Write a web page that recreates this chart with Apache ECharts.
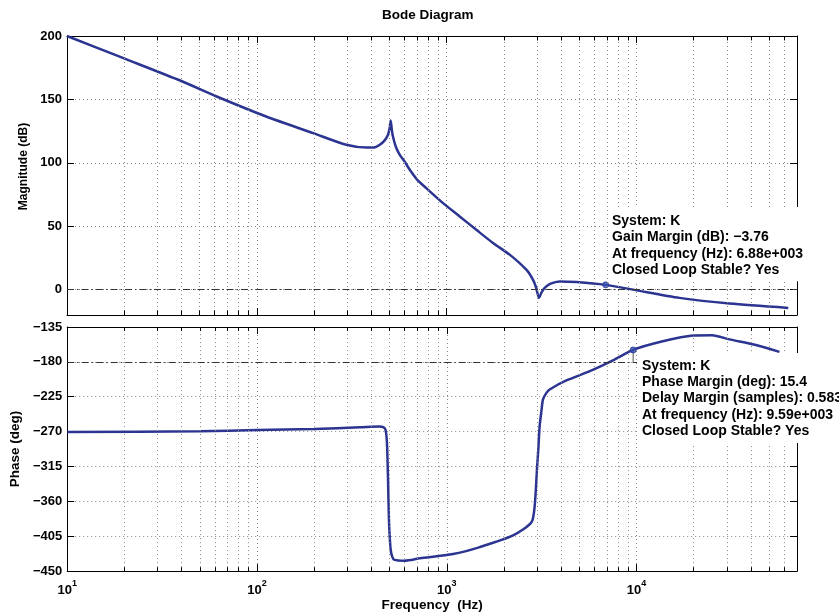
<!DOCTYPE html>
<html>
<head>
<meta charset="utf-8">
<title>Bode Diagram</title>
<script src="https://cdn.jsdelivr.net/npm/echarts@6/dist/echarts.min.js"></script>
<style>
  html, body { margin: 0; padding: 0; background: #fff; }
  #chart { width: 839px; height: 613px; }
</style>
</head>
<body>
<div id="chart"></div>
<script>
// magnitude curve (Hz, dB)
var magFreq = [10, 20, 40, 61, 112, 198, 296, 378, 420, 444,
  470, 490, 500, 507, 514, 521, 540, 566, 600, 639,
  700, 781, 957, 1171, 1432, 1753, 2146, 2626, 2845, 2960,
  3062, 3150, 3281, 3500, 3935, 4816, 6880, 9590, 16830, 30850, 63000];
var magDb = [200, 182.3, 164.5, 152.5, 136.5, 123.4, 114.2, 112, 112.3, 114.2,
  117.5, 122, 127, 133.3, 126, 120.7, 112.5, 106.3, 101, 94.5,
  86.6, 80, 68.2, 57.7, 47.2, 36.8, 27.6, 15.7, 7.9, 1.5,
  -6.5, -2.6, 1.3, 4.5, 6.5, 6, 3.76, 0, -6.5, -11, -14.4];

// phase curve (Hz, deg)
var phaseFreq = [10, 50, 100, 200, 350, 440, 465, 476, 484, 490,
  496, 505, 515, 530, 600, 721, 1079, 1493, 2234, 2793,
  2904, 2987, 3040, 3084, 3150, 3213, 3350, 3484, 4265, 5666,
  7507, 9590, 13740, 19770, 25000, 30830, 42000, 56570];
var phaseDeg = [-270.5, -269.5, -268, -266.5, -264.5, -263.5, -264.5, -268, -285, -330,
  -385, -420, -431, -435.5, -436.5, -433.5, -428, -419, -404, -387,
  -366, -318, -290, -263, -244, -228.4, -220, -215.6, -204, -192,
  -178, -164.6, -153.5, -146, -145.5, -151, -158, -167.1];

// axis ticks
var magTicks = [0, 50, 100, 150, 200];
var minorFreqs = [20, 30, 40, 50, 60, 70, 80, 90,
  200, 300, 400, 500, 600, 700, 800, 900,
  2000, 3000, 4000, 5000, 6000, 7000, 8000, 9000,
  20000, 30000, 40000, 50000, 60000];

// margins
var gmPoint = [6880, 3.76];
var pmPoint = [9590, -164.6];
var gmText = ["System: K", "Gain Margin (dB): \u22123.76", "At frequency (Hz): 6.88e+003", "Closed Loop Stable? Yes"];
var pmText = ["System: K", "Phase Margin (deg): 15.4", "Delay Margin (samples): 0.583", "At frequency (Hz): 9.59e+003", "Closed Loop Stable? Yes"];

var FONT = '"Liberation Sans", Arial, Helvetica, sans-serif';
var curveColor = "#2b3591";

function zip(xs, ys) {
  return xs.map(function (x, i) { return [x, ys[i]]; });
}

var gridLineStyle = { color: "#8a8a8a", type: [1, 3], width: 1 };
var dashDot = { color: "#333", type: [7, 3, 1.5, 3], width: 1 };
var tickStyle = { color: "#000", type: "solid", width: 1 };

// dotted minor grid lines plus short minor ticks on the bottom and top edges
function minorLines(yMin, yMax, tickLen) {
  var out = minorFreqs.map(function (f) { return { xAxis: f }; });
  minorFreqs.forEach(function (f) {
    out.push([{ coord: [f, yMin], lineStyle: tickStyle }, { coord: [f, yMin + tickLen] }]);
    out.push([{ coord: [f, yMax], lineStyle: tickStyle }, { coord: [f, yMax - tickLen] }]);
  });
  return out;
}

var myChart = echarts.init(document.getElementById("chart"));

function freqAxis(gridIndex, pos, showLabel) {
  var ax = {
    type: "log",
    logBase: 10,
    gridIndex: gridIndex,
    position: pos,
    min: 10,
    max: 70000,
    axisLine: { onZero: false, lineStyle: { color: "#000", width: 1 } },
    axisTick: { inside: true, length: 7, lineStyle: { color: "#000" } },
    splitLine: { show: pos === "bottom", lineStyle: gridLineStyle },
    axisLabel: { show: false }
  };
  if (showLabel) {
    ax.axisLabel = {
      show: true,
      margin: 8,
      color: "#000",
      formatter: function (v) {
        var e = Math.round(Math.log10(v));
        if (Math.abs(Math.pow(10, e) - v) > 1e-6 * v) return "";
        return "{b|10}{s|" + e + "}";
      },
      rich: {
        b: { fontFamily: FONT, fontWeight: "bold", fontSize: 13, lineHeight: 18, verticalAlign: "bottom" },
        s: { fontFamily: FONT, fontWeight: "bold", fontSize: 9, lineHeight: 9, verticalAlign: "top" }
      }
    };
    ax.name = "Frequency  (Hz)";
    ax.nameLocation = "middle";
    ax.nameGap = 26;
    ax.nameTextStyle = { fontFamily: FONT, fontWeight: "bold", fontSize: 13.5, color: "#000" };
  }
  return ax;
}

var tickLabel = { color: "#000", fontFamily: FONT, fontWeight: "bold", fontSize: 13, margin: 5 };

var option = {
  backgroundColor: "#fff",
  animation: false,
  grid: [
    { left: 67, right: 42, top: 36, height: 279 },
    { left: 67, right: 42, top: 327, height: 245 }
  ],
  graphic: [
    {
      type: "text", left: 382, top: 8, z: 100,
      style: { text: "Bode Diagram", font: "bold 13.5px " + FONT, fill: "#000" }
    },
    {
      type: "text", left: 608, top: 207, z: 100,
      style: {
        text: gmText.join("\n"), font: "bold 14px " + FONT, fill: "#000",
        lineHeight: 16.3, backgroundColor: "#fff", padding: [6, 4, 3, 4]
      }
    },
    {
      type: "text", left: 637, top: 353, z: 100,
      style: {
        text: pmText.join("\n"), font: "bold 14px " + FONT, fill: "#000",
        lineHeight: 16.2, backgroundColor: "#fff", padding: [5, 6, 4, 5]
      }
    }
  ],
  xAxis: [
    freqAxis(0, "bottom", false),
    freqAxis(0, "top", false),
    freqAxis(1, "bottom", true),
    freqAxis(1, "top", false)
  ],
  yAxis: [
    {
      type: "value", gridIndex: 0, position: "left", min: -20, max: 200,
      name: "Magnitude (dB)", nameLocation: "middle", nameGap: 33,
      nameTextStyle: { fontFamily: FONT, fontWeight: "bold", fontSize: 12, color: "#000", padding: [0, 0, 0, 18] },
      axisLine: { show: true, lineStyle: { color: "#000" } },
      axisTick: { show: true, inside: true, length: 7, customValues: magTicks, lineStyle: { color: "#000" } },
      axisLabel: Object.assign({ customValues: magTicks }, tickLabel),
      splitLine: { show: true, lineStyle: gridLineStyle }
    },
    {
      type: "value", gridIndex: 0, position: "right", min: -20, max: 200,
      axisLine: { show: true, lineStyle: { color: "#000" } },
      axisTick: { show: true, inside: true, length: 7, customValues: magTicks, lineStyle: { color: "#000" } },
      axisLabel: { show: false },
      splitLine: { show: false }
    },
    {
      type: "value", gridIndex: 1, position: "left", min: -450, max: -135, interval: 45,
      name: "Phase (deg)", nameLocation: "middle", nameGap: 40,
      nameTextStyle: { fontFamily: FONT, fontWeight: "bold", fontSize: 13.5, color: "#000" },
      axisLine: { show: true, lineStyle: { color: "#000" } },
      axisTick: { show: true, inside: true, length: 7, lineStyle: { color: "#000" } },
      axisLabel: Object.assign({
        formatter: function (v) { return String(v).replace("-", "\u2212"); }
      }, tickLabel),
      splitLine: { show: true, lineStyle: gridLineStyle }
    },
    {
      type: "value", gridIndex: 1, position: "right", min: -450, max: -135, interval: 45,
      axisLine: { show: true, lineStyle: { color: "#000" } },
      axisTick: { show: true, inside: true, length: 7, lineStyle: { color: "#000" } },
      axisLabel: { show: false },
      splitLine: { show: false }
    }
  ],
  series: [
    // minor grid + 0 dB line
    {
      type: "line", xAxisIndex: 0, yAxisIndex: 0, data: [], z: 1, silent: true,
      markLine: {
        silent: true, symbol: "none", label: { show: false },
        lineStyle: gridLineStyle, animation: false,
        data: minorLines(-20, 200, 3.5).concat([{ yAxis: 0, lineStyle: dashDot }])
      }
    },
    {
      type: "line", xAxisIndex: 2, yAxisIndex: 2, data: [], z: 1, silent: true,
      markLine: {
        silent: true, symbol: "none", label: { show: false },
        lineStyle: gridLineStyle, animation: false,
        data: minorLines(-450, -135, 5).concat([{ yAxis: -180, lineStyle: dashDot }])
      }
    },
    {
      name: "Magnitude", type: "line", xAxisIndex: 0, yAxisIndex: 0, z: 3,
      data: zip(magFreq, magDb), showSymbol: false, smooth: 0.25,
      lineStyle: { color: curveColor, width: 2.5 }
    },
    {
      name: "Phase", type: "line", xAxisIndex: 2, yAxisIndex: 2, z: 3,
      data: zip(phaseFreq, phaseDeg), showSymbol: false, smooth: 0.25,
      lineStyle: { color: curveColor, width: 2.5 }
    },
    {
      type: "line", xAxisIndex: 2, yAxisIndex: 2, z: 2, showSymbol: false,
      data: [[pmPoint[0], -180], pmPoint],
      lineStyle: { color: "#555", width: 1 }
    },
    {
      type: "scatter", xAxisIndex: 0, yAxisIndex: 0, z: 4,
      data: [gmPoint], symbolSize: 6, itemStyle: { color: "#3552b0", borderColor: curveColor, borderWidth: 1 }
    },
    {
      type: "scatter", xAxisIndex: 2, yAxisIndex: 2, z: 4,
      data: [pmPoint], symbolSize: 6, itemStyle: { color: "#3552b0", borderColor: curveColor, borderWidth: 1 }
    }
  ]
};

myChart.setOption(option);
</script>
</body>
</html>
